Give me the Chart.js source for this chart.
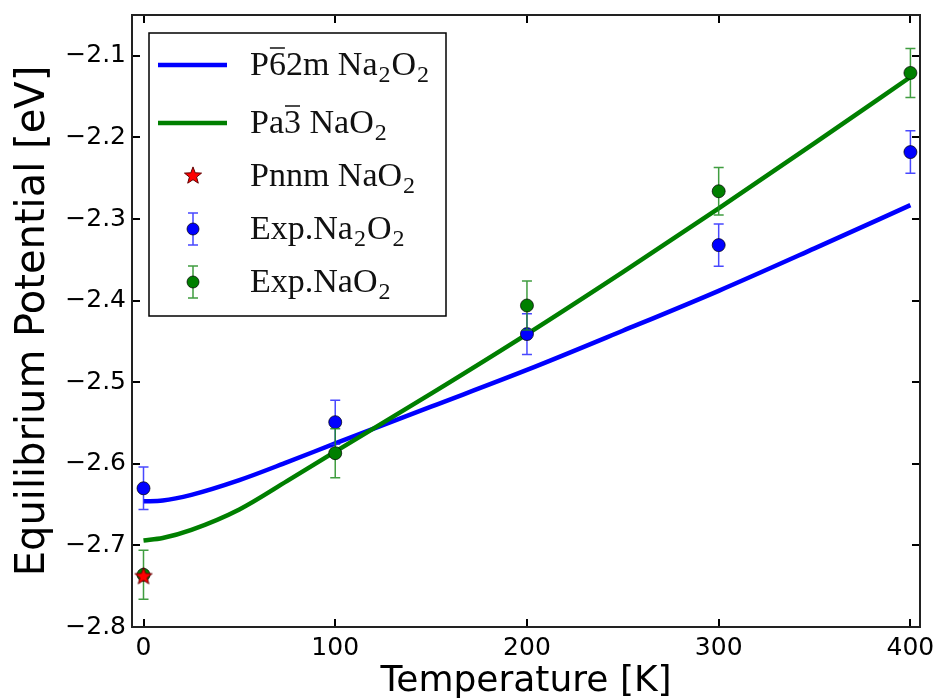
<!DOCTYPE html>
<html><head><meta charset="utf-8">
<script src="https://cdn.jsdelivr.net/npm/chart.js@4/dist/chart.umd.min.js"></script>
<style>html,body{margin:0;padding:0;background:#fff;}#wrap{width:937px;height:700px;}</style>
</head><body><div id="wrap"><canvas id="c" width="937" height="700"></canvas></div>
<script>
// ---- data ----
const calcT      = [0, 10, 25, 50, 75, 100, 150, 200, 250, 300, 350, 400];
const calcNa2O2  = [-2.646, -2.645, -2.638, -2.620, -2.598, -2.575, -2.530, -2.485, -2.437, -2.388, -2.336, -2.283];
const calcNaO2   = [-2.694, -2.691, -2.681, -2.656, -2.621, -2.585, -2.514, -2.441, -2.365, -2.287, -2.207, -2.126];
const expT       = [0, 100, 200, 300, 400];
const expNa2O2   = [-2.630, -2.549, -2.441, -2.332, -2.218];
const expNa2O2Err= [0.026, 0.027, 0.025, 0.026, 0.026];
const expNaO2    = [-2.736, -2.587, -2.406, -2.266, -2.121];
const expNaO2Err = [0.030, 0.030, 0.030, 0.029, 0.030];
const pnnmT      = [0];
const pnnmNaO2   = [-2.737];
const xTicks     = [0, 100, 200, 300, 400];
const yTicks     = [-2.8, -2.7, -2.6, -2.5, -2.4, -2.3, -2.2, -2.1];
const xTitle     = 'Temperature [K]';
const yTitle     = 'Equilibrium Potential [eV]';
// legend text pieces: [text, kind] kind: n normal, s subscript, o overline
const legendRows = [
  [['P','n'],['6','o'],['2m Na','n'],['2','s'],['O','n'],['2','s']],
  [['Pa','n'],['3','o'],[' NaO','n'],['2','s']],
  [['Pnnm NaO','n'],['2','s']],
  [['Exp.Na','n'],['2','s'],['O','n'],['2','s']],
  [['Exp.NaO','n'],['2','s']]
];

const BLUE = '#0000ff', GREEN = '#007f00';

function makeStar(r) {
  const c = document.createElement('canvas');
  const s = Math.ceil(2 * r + 4);
  c.width = s; c.height = s;
  const g = c.getContext('2d');
  g.translate(s / 2, s / 2 + r * 0.1);
  g.beginPath();
  for (let i = 0; i < 10; i++) {
    const rr = i % 2 === 0 ? r : r * 0.42;
    const a = -Math.PI / 2 + i * Math.PI / 5;
    const px = rr * Math.cos(a), py = rr * Math.sin(a);
    if (i === 0) g.moveTo(px, py); else g.lineTo(px, py);
  }
  g.closePath();
  g.fillStyle = '#ff0000';
  g.fill();
  g.lineWidth = 1;
  g.strokeStyle = '#600000';
  g.stroke();
  return c;
}
const starImg = makeStar(9);

const toPts = (xs, ys) => xs.map((x, i) => ({x: x, y: ys[i]}));

const errorBars = {
  id: 'errorBars',
  beforeDatasetDraw(chart, args) {
    const map = {2: [expNa2O2Err, 'rgba(40,40,255,0.85)'], 3: [expNaO2Err, 'rgba(30,140,30,0.85)']};
    const e = map[args.index];
    if (!e) return;
    const {ctx, scales: {x, y}} = chart;
    const ds = chart.data.datasets[args.index];
    ctx.save();
    ctx.strokeStyle = e[1];
    ctx.lineWidth = 1.5;
    ds.data.forEach((p, i) => {
      const px = x.getPixelForValue(p.x);
      const y1 = y.getPixelForValue(p.y + e[0][i]);
      const y2 = y.getPixelForValue(p.y - e[0][i]);
      ctx.beginPath();
      ctx.moveTo(px, y1); ctx.lineTo(px, y2);
      ctx.moveTo(px - 5, y1); ctx.lineTo(px + 5, y1);
      ctx.moveTo(px - 5, y2); ctx.lineTo(px + 5, y2);
      ctx.stroke();
    });
    ctx.restore();
  }
};

const frameTicks = {
  id: 'frameTicks',
  afterDraw(chart) {
    const {ctx, chartArea: a, scales: {x, y}} = chart;
    ctx.save();
    ctx.strokeStyle = '#000';
    ctx.lineWidth = 2;
    const L = 8;
    xTicks.forEach(v => {
      const px = Math.round(x.getPixelForValue(v));
      ctx.beginPath();
      ctx.moveTo(px, a.bottom); ctx.lineTo(px, a.bottom - L);
      ctx.moveTo(px, a.top); ctx.lineTo(px, a.top + L);
      ctx.stroke();
    });
    yTicks.forEach(v => {
      const py = Math.round(y.getPixelForValue(v));
      ctx.beginPath();
      ctx.moveTo(a.left, py); ctx.lineTo(a.left + L, py);
      ctx.moveTo(a.right, py); ctx.lineTo(a.right - L, py);
      ctx.stroke();
    });
    ctx.strokeStyle = '#222';
    ctx.lineWidth = 2;
    ctx.strokeRect(a.left, a.top, a.right - a.left, a.bottom - a.top);
    ctx.restore();
  }
};

const texLegend = {
  id: 'texLegend',
  afterDraw(chart) {
    const ctx = chart.ctx;
    const bx = 149, by = 33, bw = 297, bh = 283;
    ctx.save();
    ctx.fillStyle = '#fff';
    ctx.fillRect(bx, by, bw, bh);
    ctx.strokeStyle = '#000';
    ctx.lineWidth = 1.5;
    ctx.strokeRect(bx, by, bw, bh);
    const baselines = [75, 133, 186, 239, 292];
    const fs = 34, sfs = 24;
    legendRows.forEach((row, r) => {
      const base = baselines[r];
      const my = base - 10;
      if (r < 2) {
        ctx.strokeStyle = r === 0 ? BLUE : GREEN;
        ctx.lineWidth = 4.5;
        ctx.beginPath(); ctx.moveTo(158, my); ctx.lineTo(227, my); ctx.stroke();
      } else if (r === 2) {
        ctx.drawImage(starImg, 193 - starImg.width / 2, my - starImg.height / 2 - 1);
      } else {
        const col = r === 3 ? BLUE : GREEN;
        ctx.strokeStyle = r === 3 ? 'rgba(40,40,255,0.85)' : 'rgba(30,140,30,0.85)';
        ctx.lineWidth = 1.5;
        ctx.beginPath();
        ctx.moveTo(193, my - 16); ctx.lineTo(193, my + 16);
        ctx.moveTo(188, my - 16); ctx.lineTo(198, my - 16);
        ctx.moveTo(188, my + 16); ctx.lineTo(198, my + 16);
        ctx.stroke();
        ctx.beginPath(); ctx.arc(193, my, 6, 0, Math.PI * 2);
        ctx.fillStyle = col; ctx.fill();
        ctx.strokeStyle = 'rgba(0,0,0,0.7)'; ctx.lineWidth = 1; ctx.stroke();
      }
      let tx = 250;
      ctx.fillStyle = '#111';
      ctx.textBaseline = 'alphabetic';
      ctx.textAlign = 'left';
      row.forEach(([t, k]) => {
        if (k === 's') {
          ctx.font = sfs + 'px "Liberation Serif"';
          ctx.fillText(t, tx + 1, base + 7);
          tx += ctx.measureText(t).width + 2;
        } else {
          ctx.font = fs + 'px "Liberation Serif"';
          ctx.fillText(t, tx, base);
          const w = ctx.measureText(t).width;
          if (k === 'o') {
            ctx.strokeStyle = '#111'; ctx.lineWidth = 1.5;
            ctx.beginPath(); ctx.moveTo(tx + 1, base - 27); ctx.lineTo(tx + w - 1, base - 27); ctx.stroke();
          }
          tx += w;
        }
      });
    });
    ctx.restore();
  }
};

const fmt = v => (Math.round(v * 10) / 10).toFixed(1).replace('-', '\u2212');

new Chart(document.getElementById('c'), {
  type: 'scatter',
  data: {
    datasets: [
      {label: 'P-62m Na2O2', data: toPts(calcT, calcNa2O2), showLine: true, borderColor: BLUE, borderWidth: 4.5,
       pointRadius: 0, cubicInterpolationMode: 'monotone', order: 5},
      {label: 'Pa-3 NaO2', data: toPts(calcT, calcNaO2), showLine: true, borderColor: GREEN, borderWidth: 4.5,
       pointRadius: 0, cubicInterpolationMode: 'monotone', order: 4},
      {label: 'Exp.Na2O2', data: toPts(expT, expNa2O2), pointRadius: 6.5, backgroundColor: BLUE,
       borderColor: 'rgba(0,0,0,0.7)', borderWidth: 1, order: 3},
      {label: 'Exp.NaO2', data: toPts(expT, expNaO2), pointRadius: 6.5, backgroundColor: GREEN,
       borderColor: 'rgba(0,0,0,0.7)', borderWidth: 1, order: 2},
      {label: 'Pnnm NaO2', data: toPts(pnnmT, pnnmNaO2), pointStyle: starImg, order: 1}
    ]
  },
  options: {
    responsive: false,
    devicePixelRatio: 1,
    animation: false,
    layout: {padding: {top: 15, right: 17, left: 0, bottom: 0}},
    plugins: {legend: {display: false}, tooltip: {enabled: false}},
    scales: {
      x: {
        type: 'linear', min: -6, max: 405,
        afterBuildTicks: s => { s.ticks = xTicks.map(v => ({value: v})); },
        afterFit: s => { s.height = 73; s.paddingLeft = 0; s.paddingRight = 0; },
        grid: {display: false, drawTicks: false},
        border: {display: false},
        ticks: {color: '#000', padding: 6, font: {family: 'DejaVu Sans', size: 25}, maxRotation: 0,
                callback: v => String(v)},
        title: {display: true, text: xTitle, color: '#000', font: {family: 'DejaVu Sans', size: 36, lineHeight: 1},
                padding: {top: 0, bottom: 0}}
      },
      y: {
        type: 'linear', min: -2.8, max: -2.05,
        afterBuildTicks: s => { s.ticks = yTicks.map(v => ({value: v})); },
        afterFit: s => { s.width = 132; s.paddingTop = 0; s.paddingBottom = 0; },
        grid: {display: false, drawTicks: false},
        border: {display: false},
        ticks: {color: '#000', padding: 6, font: {family: 'DejaVu Sans', size: 25}, callback: v => fmt(v)},
        title: {display: true, text: yTitle, color: '#000', font: {family: 'DejaVu Sans', size: 40, lineHeight: 1.2},
                padding: {top: 10, bottom: 0}}
      }
    }
  },
  plugins: [errorBars, frameTicks, texLegend]
});
</script>
</body></html>
